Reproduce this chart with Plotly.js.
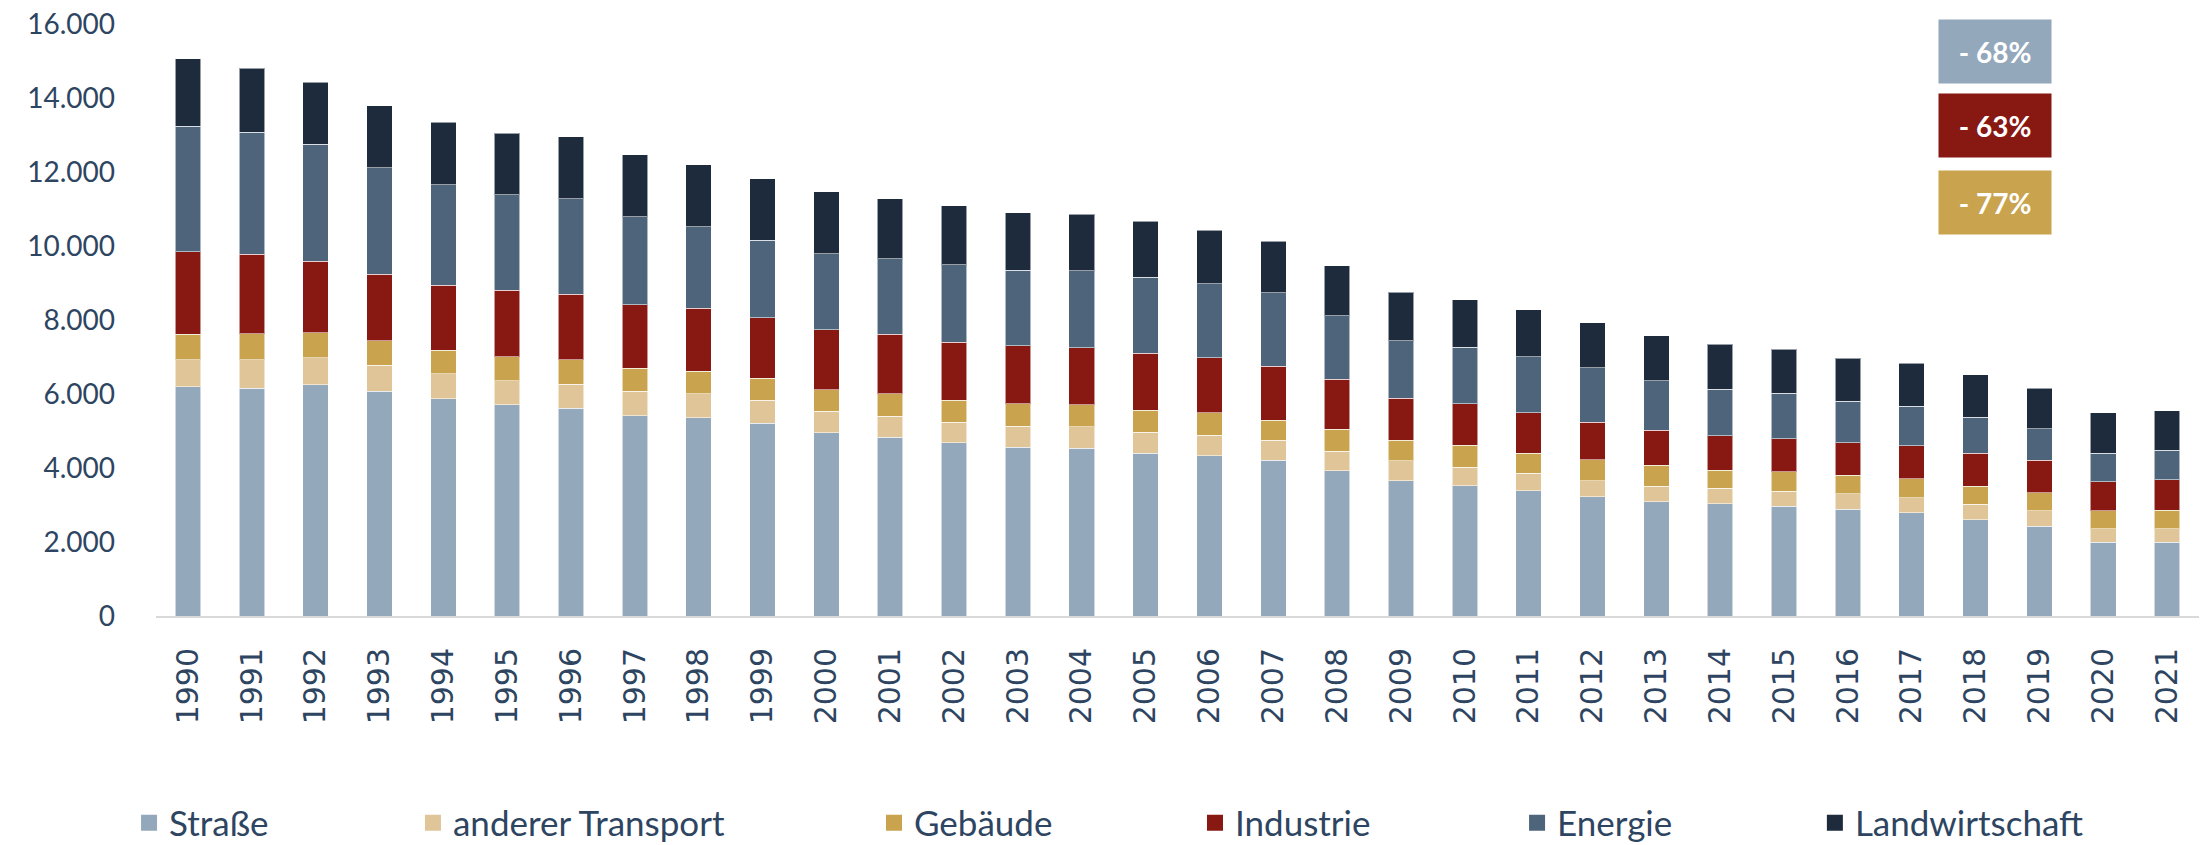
<!DOCTYPE html>
<html>
<head>
<meta charset="utf-8">
<script src="https://cdn.plot.ly/plotly-3.0.1.min.js"></script>
<style>html,body{margin:0;padding:0;background:#fff;}</style>
</head>
<body>
<div id="chart" style="width:2206px;height:845px;"></div>
<script>
const years = ["1990","1991","1992","1993","1994","1995","1996","1997","1998","1999","2000","2001","2002","2003","2004","2005","2006","2007","2008","2009","2010","2011","2012","2013","2014","2015","2016","2017","2018","2019","2020","2021"];
const strasse   = [6190,6160,6245,6070,5870,5705,5610,5410,5355,5210,4950,4830,4685,4565,4530,4400,4335,4210,3925,3660,3520,3385,3220,3090,3035,2960,2880,2795,2595,2420,1990,2000];
const anderer   = [740,760,740,705,680,660,650,660,650,615,585,570,550,570,580,570,550,540,530,530,495,475,440,420,420,415,420,405,420,430,365,355];
const gebaeude  = [690,715,670,670,630,640,670,625,615,595,585,605,595,595,595,595,605,540,595,560,605,540,560,570,485,520,505,515,495,485,485,505];
const industrie = [2230,2145,1935,1790,1760,1800,1770,1715,1695,1640,1615,1605,1575,1575,1550,1540,1485,1460,1355,1130,1120,1090,1020,945,935,890,880,890,890,870,790,825];
const energie   = [3390,3300,3165,2880,2715,2575,2575,2385,2200,2100,2055,2045,2090,2035,2080,2055,2010,1980,1715,1560,1530,1520,1475,1330,1255,1230,1120,1065,970,855,770,790];
const landw     = [1820,1725,1670,1670,1685,1670,1680,1670,1680,1660,1670,1625,1595,1560,1530,1505,1440,1395,1350,1310,1275,1265,1210,1220,1210,1190,1165,1165,1155,1090,1100,1075];

const seriesNames = ["Straße","anderer Transport","Gebäude","Industrie","Energie","Landwirtschaft"];
const seriesValues = [strasse, anderer, gebaeude, industrie, energie, landw];
const seriesColors = ["#94A8BC","#E0C598","#C9A34E","#881812","#4E647B","#1E2B3C"];

const pctLabels = ["- 68%","- 63%","- 77%"];
const pctColors = ["#94A8BC","#881812","#C9A34E"];

const textColor = "#2E4562";
const legendX = [0.0585, 0.1872, 0.3962, 0.5417, 0.6877, 0.8227];
const pctY = [0.954, 0.828, 0.699];

const traces = [];
seriesNames.forEach((name, i) => {
  traces.push({
    type: "bar", x: years, y: seriesValues[i], name: name,
    marker: {color: seriesColors[i], line: {color: "rgba(255,255,255,0.55)", width: 1}},
    showlegend: false, hoverinfo: "x+y+name"
  });
});
seriesNames.forEach((name, i) => {
  traces.push({
    type: "scatter", mode: "markers", x: [null], y: [null], name: name,
    marker: {color: seriesColors[i], symbol: "square", size: 16},
    showlegend: true, legend: i === 0 ? "legend" : "legend" + (i + 1)
  });
});

const layout = {
  width: 2206, height: 845,
  margin: {l: 156, r: 7, t: 24, b: 229},
  paper_bgcolor: "#fff", plot_bgcolor: "#fff",
  barmode: "stack", bargap: 0.6,
  separators: ",.",
  font: {family: "Lato, sans-serif", color: textColor},
  xaxis: {
    type: "category", showgrid: false, zeroline: false,
    showline: true, linecolor: "#D9D9D9", linewidth: 2,
    tickangle: -90, ticks: "", ticklabelstandoff: 18,
    tickfont: {family: "DejaVu Sans, sans-serif", size: 30, color: textColor}
  },
  yaxis: {
    range: [0, 16000], dtick: 2000, tickformat: ",d",
    showgrid: false, zeroline: false, showline: false, ticks: "",
    ticklabelstandoff: 40,
    tickfont: {family: "Lato, sans-serif", size: 28, color: textColor}
  },
  annotations: pctLabels.map((t, i) => ({
    xref: "paper", yref: "paper", x: 0.900, y: pctY[i],
    xanchor: "center", yanchor: "middle",
    text: "<b>" + t + "</b>", showarrow: false,
    width: 112, height: 63, borderpad: 0,
    bgcolor: pctColors[i],
    font: {family: "Lato, sans-serif", size: 28, color: "#ffffff"}
  }))
};
seriesNames.forEach((name, i) => {
  const key = i === 0 ? "legend" : "legend" + (i + 1);
  layout[key] = {
    orientation: "h", xref: "container", yref: "container",
    x: legendX[i], y: 0.026, xanchor: "left", yanchor: "middle",
    bgcolor: "rgba(0,0,0,0)",
    font: {family: "Lato, sans-serif", size: 35, color: textColor}
  };
});

Plotly.newPlot("chart", traces, layout, {displayModeBar: false, staticPlot: true});
</script>
</body>
</html>
